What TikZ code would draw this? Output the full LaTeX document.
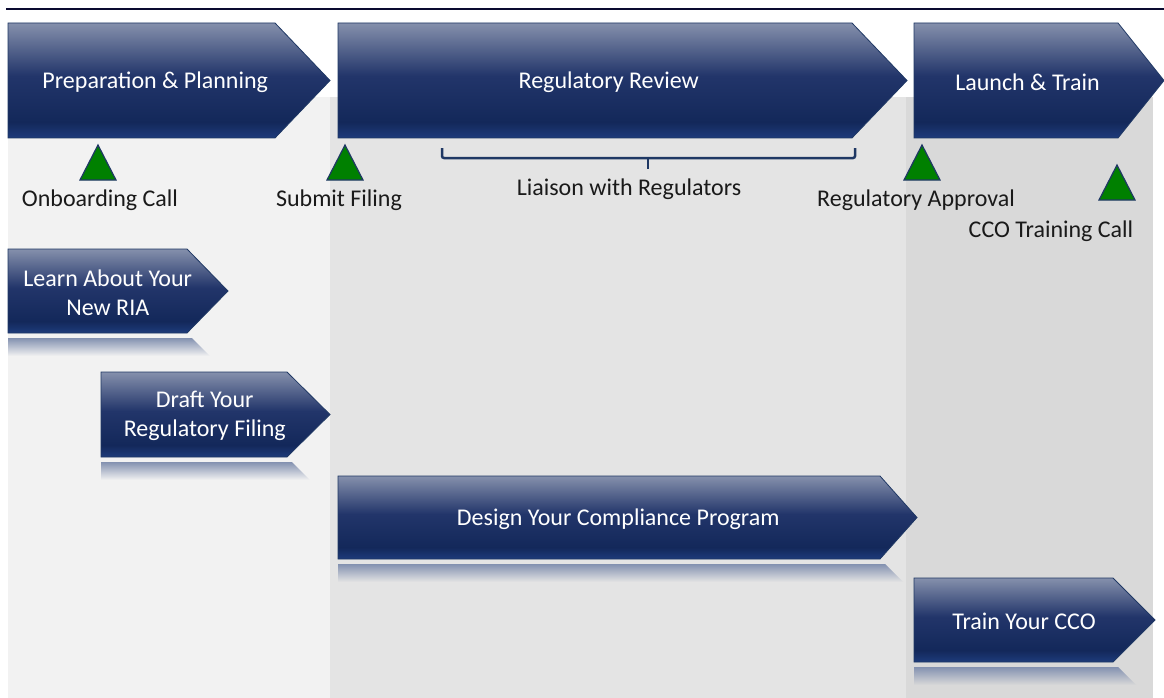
\documentclass[tikz,border=0pt]{standalone}
\usepackage{fontspec}
\setmainfont{Carlito}
\definecolor{chevTop}{HTML}{8590AC}
\definecolor{chevMid}{HTML}{22356A}
\definecolor{chevDark}{HTML}{13285A}
\definecolor{chevBot}{HTML}{1E3B7B}
\definecolor{chevLine}{HTML}{1F3864}
\definecolor{panelA}{HTML}{F2F2F2}
\definecolor{panelB}{HTML}{E4E4E4}
\definecolor{panelC}{HTML}{D9D9D9}
\definecolor{reflTop}{HTML}{8391B0}
\definecolor{msGreen}{HTML}{008000}
\definecolor{topRule}{HTML}{0A0A30}
\definecolor{labelInk}{HTML}{1A1A1A}
\pgfdeclareverticalshading{chevshade}{100bp}{color(0bp)=(chevBot); color(25bp)=(chevBot); color(32bp)=(chevDark); color(52bp)=(chevMid); color(75bp)=(chevTop); color(100bp)=(chevTop)}
\newcommand\chevron[7]{% name, left, top, shoulder, tip, bottom, text
  \path[chevbody] (#2,#3) -- (#4,#3) -- (#5,{(#3+#6)/2}) -- (#4,#6) -- (#2,#6) -- cycle;
  \node[chevtext] (#1) at ({(#2+(#4+#5)/2)/2},{(#3+#6)/2}) {#7};}
\newcommand\reflectbar[4]{% left, arrow bottom, shoulder, background
  \shade[top color=reflTop, bottom color=#4] (#1,#2+5) -- (#3+5,#2+5) -- (#3+23,#2+23) -- (#1,#2+23) -- cycle;}
\newcommand\milestone[2]{% apex x, apex y
  \draw[msstyle] (#1,#2) -- (#1+18,#2+35) -- (#1-18,#2+35) -- cycle;}
\begin{document}
\begin{tikzpicture}[x=1pt,y=-1pt,
  chevbody/.style={draw=chevLine, line width=0.8pt, shading=chevshade},
  chevtext/.style={text=white, font=\fontsize{24}{29}\selectfont, align=center, inner sep=0pt, yshift=-1.5pt},
  lbl/.style={text=labelInk, font=\fontsize{24}{29}\selectfont, inner sep=0pt, yshift=-1pt},
  msstyle/.style={draw=chevLine, fill=msGreen, line width=1.2pt, line join=miter},
  bracketline/.style={draw=chevLine, line width=2.5pt, rounded corners=2pt}]
\useasboundingbox (0,0) rectangle (1164,698);
\fill[white] (0,0) rectangle (1164,698);
% panels
\fill[panelA] (8,97) rectangle (330,698);
\fill[panelB] (330,97) rectangle (906,698);
\fill[panelC] (906,97) rectangle (1153,698);
% top rule
\draw[topRule, line width=2pt] (6,9.5) -- (1164,9.5);
% phase chevrons
\chevron{prep}{8}{23}{275}{330}{138}{Preparation \& Planning}
\chevron{review}{338}{23}{852}{907}{138}{Regulatory Review}
\chevron{launch}{914}{23}{1118}{1164}{138}{Launch \& Train}
% milestones
\milestone{98}{145}
\milestone{345}{145}
\milestone{922}{145}
\milestone{1117}{165}
\node[lbl] (onb) at (100,199) {Onboarding Call};
\node[lbl] (sub) at (339,199) {Submit Filing};
\node[lbl] (appr) at (916,199) {Regulatory Approval};
\node[lbl] (cco) at (1051,230) {CCO Training Call};
% bracket
\draw[bracketline] (442,148) -- (442,158) -- (855,158) -- (855,148);
\draw[bracketline] (648,158) -- (648,169);
\node[lbl] (liaison) at (629,188) {Liaison with Regulators};
% task chevrons
\reflectbar{8}{333}{187}{panelA}
\chevron{learn}{8}{249}{187}{228}{333}{Learn About Your\\New RIA}
\reflectbar{101}{457}{287}{panelA}
\chevron{draft}{101}{372}{287}{330}{457}{Draft Your\\Regulatory Filing}
\reflectbar{338}{559}{880}{panelB}
\chevron{design}{338}{476}{880}{917}{559}{Design Your Compliance Program}
\reflectbar{914}{662}{1113}{panelC}
\chevron{train}{914}{578}{1113}{1155}{662}{Train Your CCO}
\end{tikzpicture}
\end{document}
